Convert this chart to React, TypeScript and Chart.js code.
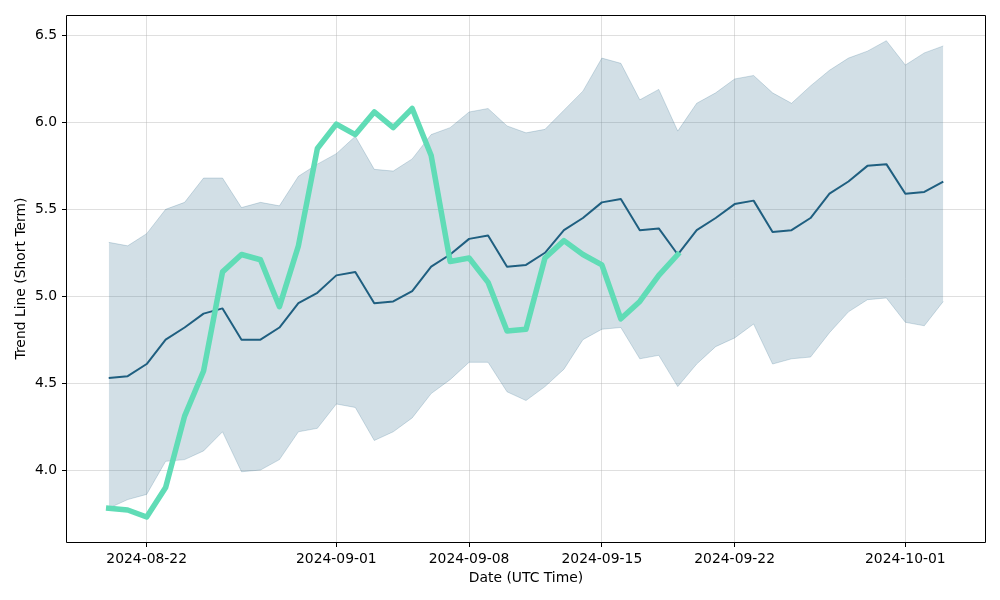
import React, { useEffect, useRef } from 'react';
import { Chart, registerables } from 'chart.js';

Chart.register(...registerables);

const dates = [
  '2024-08-20', '2024-08-21', '2024-08-22', '2024-08-23', '2024-08-24', '2024-08-25', '2024-08-26',
  '2024-08-27', '2024-08-28', '2024-08-29', '2024-08-30', '2024-08-31', '2024-09-01', '2024-09-02',
  '2024-09-03', '2024-09-04', '2024-09-05', '2024-09-06', '2024-09-07', '2024-09-08', '2024-09-09',
  '2024-09-10', '2024-09-11', '2024-09-12', '2024-09-13', '2024-09-14', '2024-09-15', '2024-09-16',
  '2024-09-17', '2024-09-18', '2024-09-19', '2024-09-20', '2024-09-21', '2024-09-22', '2024-09-23',
  '2024-09-24', '2024-09-25', '2024-09-26', '2024-09-27', '2024-09-28', '2024-09-29', '2024-09-30',
  '2024-10-01', '2024-10-02', '2024-10-03',
];

const meanValues = [
  4.53, 4.54, 4.61, 4.75, 4.82, 4.90, 4.93, 4.75, 4.75, 4.82, 4.96, 5.02, 5.12, 5.14, 4.96,
  4.97, 5.03, 5.17, 5.24, 5.33, 5.35, 5.17, 5.18, 5.25, 5.38, 5.45, 5.54, 5.56, 5.38, 5.39,
  5.24, 5.38, 5.45, 5.53, 5.55, 5.37, 5.38, 5.45, 5.59, 5.66, 5.75, 5.76, 5.59, 5.60, 5.66,
];

const upperValues = [
  5.31, 5.29, 5.36, 5.50, 5.54, 5.68, 5.68, 5.51, 5.54, 5.52, 5.69, 5.76, 5.82, 5.92, 5.73,
  5.72, 5.79, 5.93, 5.97, 6.06, 6.08, 5.98, 5.94, 5.96, 6.07, 6.18, 6.37, 6.34, 6.13, 6.19,
  5.95, 6.11, 6.17, 6.25, 6.27, 6.17, 6.11, 6.21, 6.30, 6.37, 6.41, 6.47, 6.33, 6.40, 6.44,
];

const lowerValues = [
  3.78, 3.83, 3.86, 4.05, 4.06, 4.11, 4.22, 3.99, 4.00, 4.06, 4.22, 4.24, 4.38, 4.36, 4.17,
  4.22, 4.30, 4.44, 4.52, 4.62, 4.62, 4.45, 4.40, 4.48, 4.58, 4.75, 4.81, 4.82, 4.64, 4.66,
  4.48, 4.61, 4.71, 4.76, 4.84, 4.61, 4.64, 4.65, 4.79, 4.91, 4.98, 4.99, 4.85, 4.83, 4.97,
];

const shortTermValues = [
  3.78, 3.77, 3.73, 3.90, 4.31, 4.57, 5.14, 5.24, 5.21, 4.94, 5.29, 5.85, 5.99, 5.93, 6.06,
  5.97, 6.08, 5.81, 5.20, 5.22, 5.08, 4.80, 4.81, 5.22, 5.32, 5.24, 5.18, 4.87, 4.97, 5.12,
  5.24,
];

const xTickLabels = ['2024-08-22', '2024-09-01', '2024-09-08', '2024-09-15', '2024-09-22', '2024-10-01'];
const yTickValues = [4.0, 4.5, 5.0, 5.5, 6.0, 6.5];

const BLUE = '#1f5f80';
const BAND = 'rgba(31,95,128,0.2)';
const GREEN = '#60dcb6';
const GRID = 'rgba(176,176,176,0.4)';
const FONT_SIZE = 13.9;

export default function App() {
  const ref = useRef<HTMLCanvasElement>(null);

  useEffect(() => {
    document.body.style.margin = '0';
    const canvas = ref.current;
    if (!canvas) return;
    Chart.defaults.font.family = "'DejaVu Sans', sans-serif";

    const toPts = (arr: number[]) => arr.map((y, i) => ({ x: i, y }));
    const xTickIdx = xTickLabels.map((d) => dates.indexOf(d));

    const frame = {
      id: 'frame',
      afterDraw(chart: any) {
        const { ctx, chartArea } = chart;
        const l = Math.round(chartArea.left) - 0.5;
        const r = Math.round(chartArea.right) + 0.5;
        const t = Math.round(chartArea.top) + 0.5;
        const b = Math.round(chartArea.bottom) + 0.5;
        ctx.save();
        ctx.strokeStyle = '#000';
        ctx.lineWidth = 1;
        ctx.beginPath();
        ctx.moveTo(l, t);
        ctx.lineTo(r, t);
        ctx.lineTo(r, b);
        ctx.lineTo(l, b);
        ctx.closePath();
        ctx.stroke();
        ctx.restore();
      },
    };

    const chart = new Chart(canvas, {
      type: 'line',
      data: {
        datasets: [
          {
            label: 'Short Term',
            data: toPts(shortTermValues),
            borderColor: GREEN,
            borderWidth: 5.5,
            pointRadius: 0,
            fill: false,
            order: 0,
            borderCapStyle: 'square',
            borderJoinStyle: 'round',
          },
          {
            label: 'Mean',
            data: toPts(meanValues),
            borderColor: BLUE,
            borderWidth: 2,
            pointRadius: 0,
            fill: false,
            order: 1,
            borderJoinStyle: 'round',
          },
          {
            label: 'Upper',
            data: toPts(upperValues),
            borderColor: BAND,
            backgroundColor: BAND,
            borderWidth: 1,
            pointRadius: 0,
            fill: '+1',
            order: 2,
          },
          {
            label: 'Lower',
            data: toPts(lowerValues),
            borderColor: BAND,
            borderWidth: 1,
            pointRadius: 0,
            fill: false,
            order: 3,
          },
        ],
      },
      options: {
        animation: false,
        responsive: false,
        devicePixelRatio: 1,
        layout: { padding: { top: 15, right: 15, left: 0, bottom: 0 } },
        plugins: { legend: { display: false }, tooltip: { enabled: false } },
        elements: { line: { tension: 0 } },
        scales: {
          x: {
            type: 'linear',
            min: -2.2,
            max: 46.2,
            afterFit(s: any) { s.height = 58; },
            afterBuildTicks(s: any) { s.ticks = xTickIdx.map((v) => ({ value: v })); },
            ticks: {
              callback: (_v: any, i: number) => xTickLabels[i],
              color: '#000',
              font: { size: FONT_SIZE },
              padding: 4,
              maxRotation: 0,
              autoSkip: false,
            },
            grid: { color: GRID, tickColor: '#000', tickLength: 5, lineWidth: 1 },
            border: { display: false },
            title: {
              display: true,
              text: 'Date (UTC Time)',
              color: '#000',
              font: { size: FONT_SIZE },
              padding: { top: 0, bottom: 13 },
            },
          },
          y: {
            type: 'linear',
            min: 3.586,
            max: 6.618,
            afterFit(s: any) { s.width = 67; },
            afterBuildTicks(s: any) { s.ticks = yTickValues.map((v) => ({ value: v })); },
            ticks: {
              callback: (v: any) => Number(v).toFixed(1),
              color: '#000',
              font: { size: FONT_SIZE },
              padding: 5,
            },
            grid: { color: GRID, tickColor: '#000', tickLength: 5, lineWidth: 1 },
            border: { display: false },
            title: {
              display: true,
              text: 'Trend Line (Short Term)',
              color: '#000',
              font: { size: FONT_SIZE },
              padding: { top: 13.5, bottom: 0 },
            },
          },
        },
      },
      plugins: [frame],
    } as any);

    return () => chart.destroy();
  }, []);

  return (
    <div style={{ position: 'absolute', left: 0, top: 0, width: 1000, height: 600, background: '#fff' }}>
      <canvas ref={ref} width={1000} height={600} style={{ display: 'block', width: 1000, height: 600 }} />
    </div>
  );
}
